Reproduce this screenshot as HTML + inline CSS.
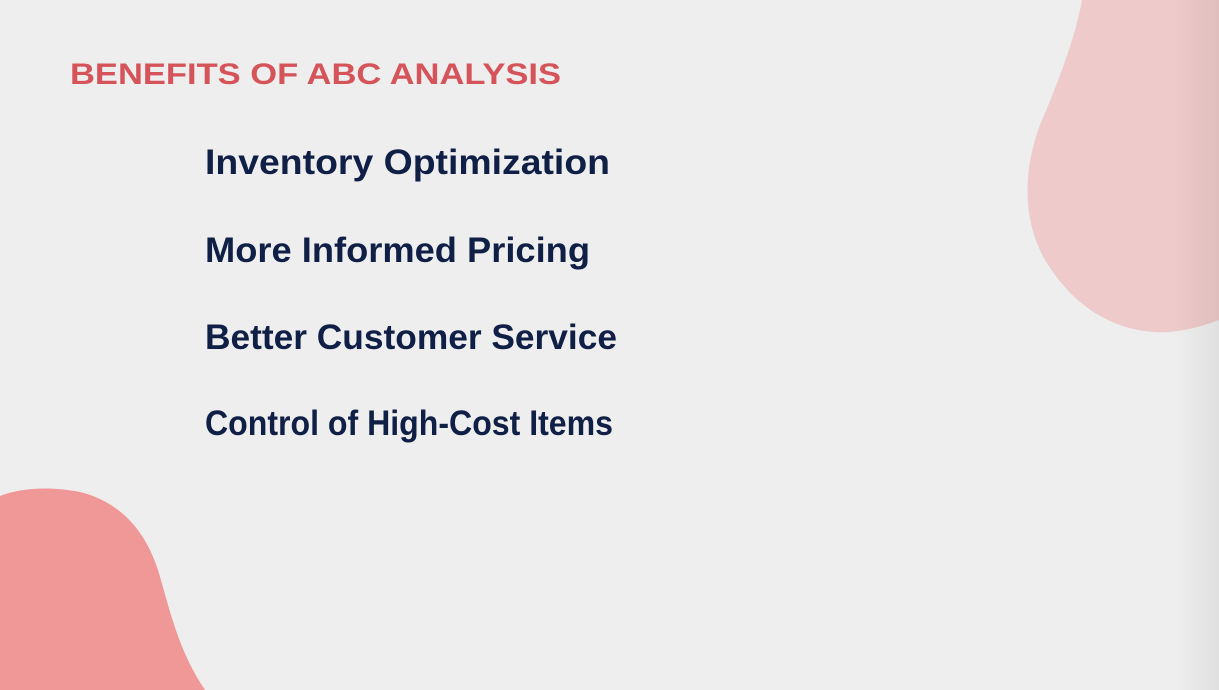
<!DOCTYPE html>
<html><head><meta charset="utf-8"><style>
html,body{margin:0;padding:0;width:1219px;height:690px;overflow:hidden;background:#eeeeee;}
svg{display:block}
</style></head><body>
<svg width="1219" height="690" viewBox="0 0 1219 690">
<defs>
<linearGradient id="sh" x1="0" x2="1" y1="0" y2="0">
<stop offset="0" stop-color="#000" stop-opacity="0"/>
<stop offset="1" stop-color="#000" stop-opacity="0.06"/>
</linearGradient>
</defs>
<rect width="1219" height="690" fill="#eeeeee"/>
<path fill="#eecaca"
 d="M1082,0 C1075,40 1055,90 1040,125 C1025,165 1020,215 1045,260 C1075,310 1120,335 1170,332 C1190,330 1205,325 1219,320 L1219,0 Z"/>
<path fill="#f09898"
 d="M0,496 C20,488 50,486 80,492 C120,502 145,530 158,570 C170,610 178,650 205,690 L0,690 Z"/>
<rect x="1175" y="0" width="44" height="690" fill="url(#sh)"/>
<text x="70" y="84" textLength="491" lengthAdjust="spacingAndGlyphs" font-family="Liberation Sans, sans-serif" font-weight="bold" font-size="30" fill="#d5545a">BENEFITS OF ABC ANALYSIS</text>
<g font-family="Liberation Sans, sans-serif" font-weight="bold" font-size="35" fill="#0f1f45">
<text x="205" y="174" textLength="405" lengthAdjust="spacingAndGlyphs">Inventory Optimization</text>
<text x="205" y="262" textLength="385" lengthAdjust="spacingAndGlyphs">More Informed Pricing</text>
<text x="205" y="349" textLength="412" lengthAdjust="spacingAndGlyphs">Better Customer Service</text>
<text x="205" y="435" textLength="408" lengthAdjust="spacingAndGlyphs">Control of High-Cost Items</text>
</g>
</svg>
</body></html>
